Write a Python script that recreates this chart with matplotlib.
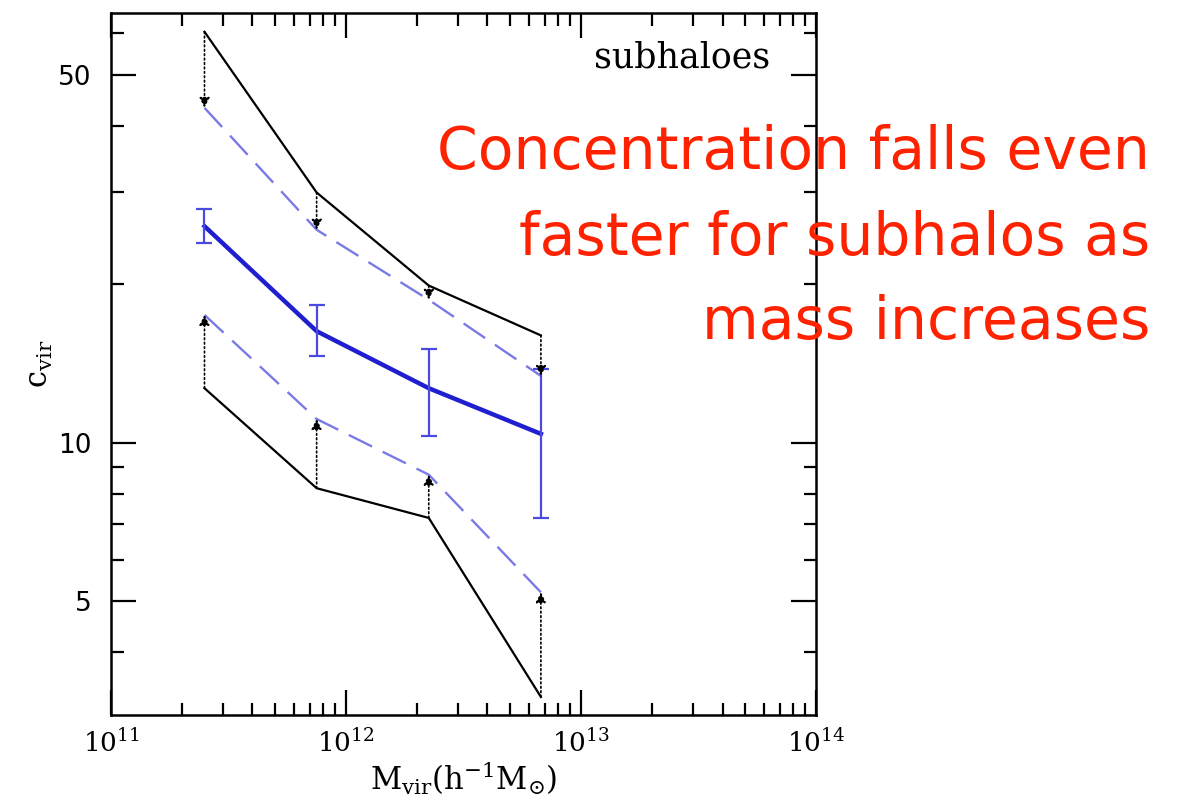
import numpy as np
import matplotlib.pyplot as plt
from matplotlib.ticker import LogLocator, FixedLocator, FixedFormatter, NullFormatter

# masses of the four bins
mass = [2.5e11, 7.5e11, 2.25e12, 6.75e12]

# median concentration of subhaloes and its error bars
c_med = [25.8, 16.3, 12.7, 10.4]
c_med_lo = [24.0, 14.6, 10.3, 7.2]
c_med_hi = [27.8, 18.3, 15.1, 13.8]

# upper / lower envelopes (solid black) and corrected ones (dashed blue)
c_up = [60.4, 29.9, 19.9, 16.0]
c_up_dash = [43.3, 25.4, 18.7, 13.4]
c_low = [12.7, 8.2, 7.2, 3.29]
c_low_dash = [17.5, 11.1, 8.7, 5.2]

note_lines = ["Concentration falls even", "faster for subhalos as", "mass increases"]

plt.rcParams['mathtext.fontset'] = 'dejavuserif'
plt.rcParams['font.family'] = 'serif'
plt.rcParams['font.serif'] = ['DejaVu Serif']

fig = plt.figure(figsize=(11.83, 8.07), dpi=100)
ax = fig.add_axes([0.0938, 0.114, 0.596, 0.87])
ax.set_xscale('log')
ax.set_yscale('log')
ax.set_xlim(1e11, 1e14)
ax.set_ylim(3.04, 65.6)

# envelopes
ax.plot(mass, c_up, color='black', lw=1.6)
ax.plot(mass, c_low, color='black', lw=1.6)
ax.plot(mass, c_up_dash, color='#7a7ae6', lw=1.7, ls=(0, (11, 5)))
ax.plot(mass, c_low_dash, color='#7a7ae6', lw=1.7, ls=(0, (11, 5)))

# median with error bars
err = [np.array(c_med) - np.array(c_med_lo), np.array(c_med_hi) - np.array(c_med)]
ax.plot(mass, c_med, color='#1f1fd0', lw=3.2)
ax.errorbar(mass, c_med, yerr=err, fmt='none', ecolor='#4a4ae0', elinewidth=1.6, capsize=6, capthick=1.6)

# dotted arrows from the solid envelope to the dashed one
for m, a, b in zip(mass, c_up, c_up_dash):
    ax.annotate('', xy=(m, b), xytext=(m, a),
                arrowprops=dict(arrowstyle='-|>', ls=':', color='black', lw=1.2, mutation_scale=15,
                                shrinkA=0, shrinkB=0))
for m, a, b in zip(mass, c_low, c_low_dash):
    ax.annotate('', xy=(m, b), xytext=(m, a),
                arrowprops=dict(arrowstyle='-|>', ls=':', color='black', lw=1.2, mutation_scale=15,
                                shrinkA=0, shrinkB=0))

# ticks
ax.xaxis.set_major_locator(LogLocator(base=10, numticks=10))
ax.xaxis.set_minor_locator(LogLocator(base=10, subs=np.arange(2, 10), numticks=20))
ax.xaxis.set_minor_formatter(NullFormatter())
ax.yaxis.set_major_locator(FixedLocator([5, 10, 50]))
ax.yaxis.set_major_formatter(FixedFormatter(['5', '10', '50']))
ax.yaxis.set_minor_locator(FixedLocator([4, 6, 7, 8, 9, 20, 30, 40, 60]))
ax.yaxis.set_minor_formatter(NullFormatter())
ax.tick_params(which='both', direction='in', top=True, right=True, width=1.6)
ax.tick_params(which='major', length=18, pad=10)
ax.tick_params(axis='x', which='major', labelsize=19)
ax.tick_params(axis='y', which='major', labelsize=19, pad=14)
ax.tick_params(which='minor', length=9)
for lab in ax.get_yticklabels():
    lab.set_family('DejaVu Sans')
for sp in ax.spines.values():
    sp.set_linewidth(1.8)

ax.set_xlabel(r'$\mathrm{M_{vir}(h^{-1}M_{\odot})}$', fontsize=22, labelpad=2)
ax.set_ylabel(r'$\mathrm{c_{vir}}$', fontsize=22, labelpad=2)

ax.text(0.935, 0.937, 'subhaloes', transform=ax.transAxes, ha='right', va='center', fontsize=25)

for i, line in enumerate(note_lines):
    fig.text(1150 / 1183, 1 - (153 + 85 * i) / 807, line, ha='right', va='center',
             fontsize=42, color='#ff2200', family=['DejaVu Sans'])

fig.savefig('out.png', dpi=100)
